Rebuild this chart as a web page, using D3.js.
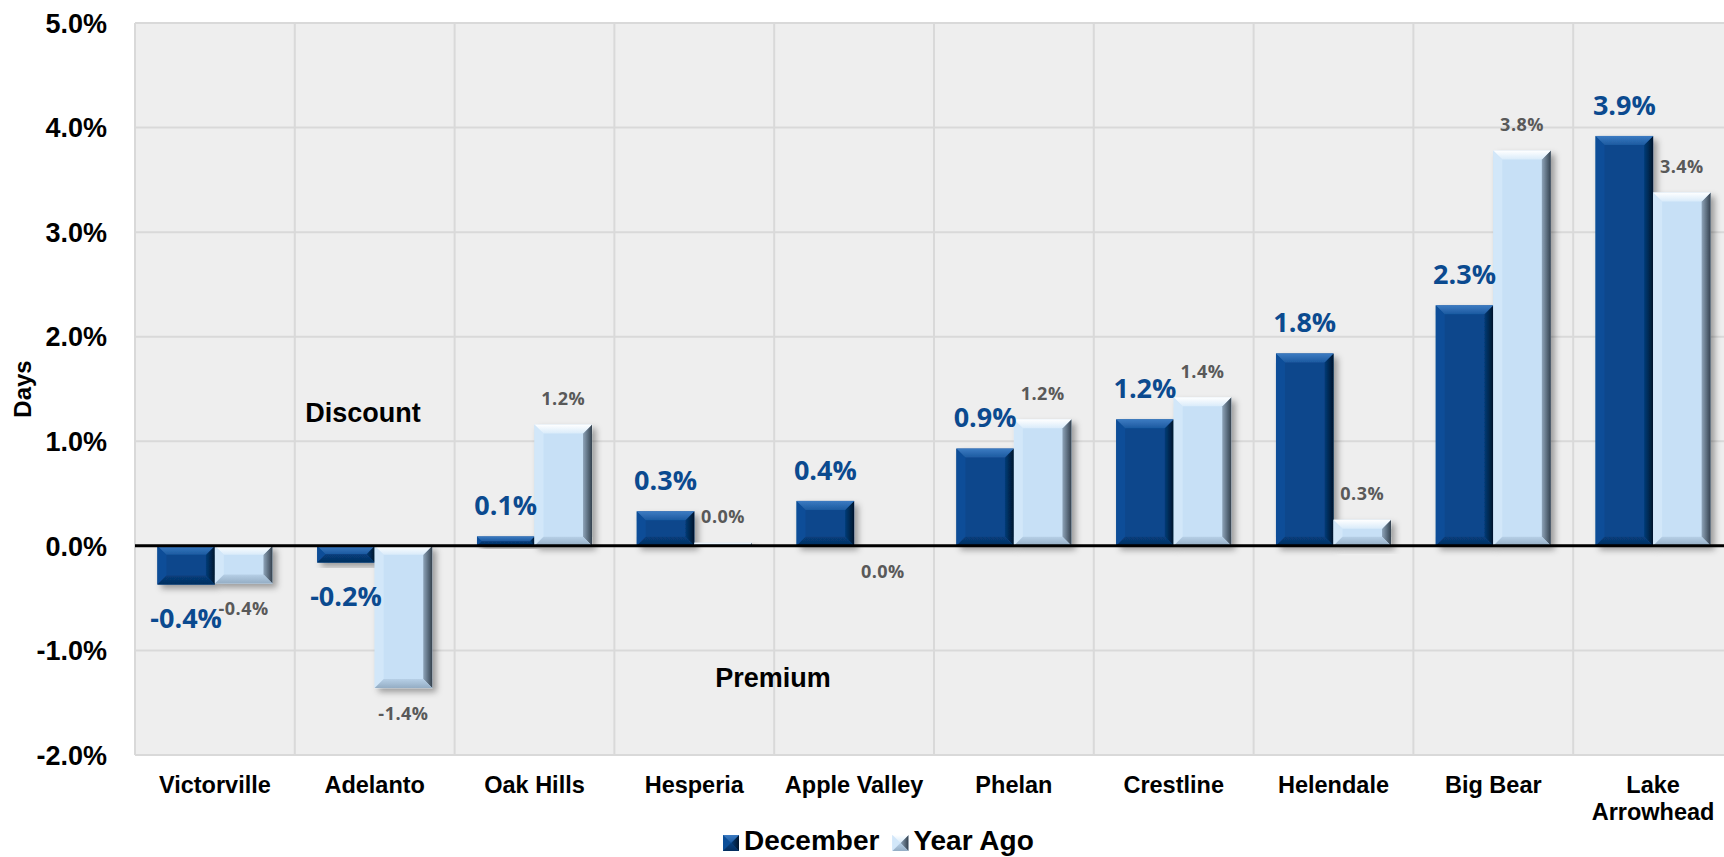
<!DOCTYPE html>
<html>
<head>
<meta charset="utf-8">
<script src="https://cdn.jsdelivr.net/npm/d3@7"></script>
<style>
  body { margin: 0; background: #fff; }
  svg { display: block; }
</style>
</head>
<body>
<div id="chart"></div>
<script>
// values
const cities = ['Victorville', 'Adelanto', 'Oak Hills', 'Hesperia', 'Apple Valley',
    'Phelan', 'Crestline', 'Helendale', 'Big Bear', 'Lake Arrowhead'];
const seriesNames = ['December', 'Year Ago'];
const december = [-0.37, -0.16, 0.09, 0.33, 0.43, 0.93, 1.21, 1.84, 2.3, 3.92];
const yearAgo = [-0.36, -1.36, 1.16, 0.03, -0.01, 1.21, 1.42, 0.25, 3.78, 3.38];
const yTicks = [-2, -1, 0, 1, 2, 3, 4, 5];

const width = 1724, height = 857;
const plot = { left: 135, right: 1733, top: 23, bottom: 755 };

const svg = d3.select('#chart').append('svg').attr('width', width).attr('height', height);
const defs = svg.append('defs');

const fmt = d3.formatLocale({ decimal: '.', thousands: ',', grouping: [3], currency: ['$', ''], minus: '-' }).format('.1f');

const x0 = d3.scaleBand().domain(cities).range([plot.left, plot.right]).paddingInner(0.28).paddingOuter(0.14);
const x1 = d3.scaleBand().domain(seriesNames).range([0, x0.bandwidth()]);
const y = d3.scaleLinear().domain([-2, 5]).range([plot.bottom, plot.top]);

// drop shadow
const f = defs.append('filter').attr('id', 'shadow').attr('x', '-20%').attr('y', '-20%').attr('width', '150%').attr('height', '150%');
f.append('feDropShadow').attr('dx', 4).attr('dy', 4).attr('stdDeviation', 3).attr('flood-color', '#000').attr('flood-opacity', 0.35);

function grad(id, stops, vertical) {
    const g = defs.append('linearGradient').attr('id', id)
        .attr('x1', 0).attr('y1', 0).attr('x2', vertical ? 0 : 1).attr('y2', vertical ? 1 : 0);
    stops.forEach(s => g.append('stop').attr('offset', s[0]).attr('stop-color', s[1]));
}
const styles = {
    'December': { base: '#08468C', top: ['#3C7BC2', '#1C5AA0'], bottom: ['#073E7C', '#052E5E'], left: '#0B4E98', right: ['#063C78', '#02152B'] },
    'Year Ago': { base: '#C7E0F6', top: ['#FFFFFF', '#D9EBFA'], bottom: ['#B6CFE6', '#94ADC4'], left: '#D2E7F9', right: ['#8EA4B9', '#34414E'] }
};
Object.entries(styles).forEach(([k, s], i) => {
    grad('top' + i, [[0, s.top[0]], [1, s.top[1]]], true);
    grad('bot' + i, [[0, s.bottom[0]], [1, s.bottom[1]]], true);
    grad('right' + i, [[0, s.right[0]], [1, s.right[1]]], false);
    s.idx = i;
});

// plot background + grid
svg.append('rect').attr('x', plot.left).attr('y', plot.top)
    .attr('width', plot.right - plot.left).attr('height', plot.bottom - plot.top).attr('fill', '#EEEEEE');
svg.append('g').selectAll('line').data(yTicks).join('line')
    .attr('x1', plot.left).attr('x2', plot.right)
    .attr('y1', d => y(d)).attr('y2', d => y(d))
    .attr('stroke', '#D9D9D9').attr('stroke-width', 2);
const step = x0.step();
svg.append('g').selectAll('line').data(d3.range(cities.length + 1)).join('line')
    .attr('x1', d => plot.left + d * step).attr('x2', d => plot.left + d * step)
    .attr('y1', plot.top).attr('y2', plot.bottom)
    .attr('stroke', '#D9D9D9').attr('stroke-width', 2);

// y axis labels
svg.append('g').selectAll('text').data(yTicks).join('text')
    .attr('x', 107).attr('y', d => y(d)).attr('dy', '0.36em')
    .attr('text-anchor', 'end')
    .style('font', 'bold 27px "Liberation Sans", Arial, sans-serif')
    .text(d => fmt(d) + '%');
svg.append('text')
    .attr('transform', `translate(31,${(plot.top + plot.bottom) / 2}) rotate(-90)`)
    .attr('text-anchor', 'middle')
    .style('font', 'bold 24px "Liberation Sans", Arial, sans-serif')
    .text('Days');

// bevel bar
function bevelBar(g, x, yTop, w, h, s) {
    const b = Math.min(9, h / 2);
    const i = s.idx;
    const bar = g.append('g').attr('filter', 'url(#shadow)');
    bar.append('rect').attr('x', x).attr('y', yTop).attr('width', w).attr('height', h).attr('fill', s.base);
    const pts = a => a.map(p => p.join(',')).join(' ');
    bar.append('polygon').attr('points', pts([[x, yTop], [x + b, yTop + b], [x + b, yTop + h - b], [x, yTop + h]])).attr('fill', s.left);
    bar.append('polygon').attr('points', pts([[x + w, yTop], [x + w - b, yTop + b], [x + w - b, yTop + h - b], [x + w, yTop + h]])).attr('fill', `url(#right${i})`);
    bar.append('polygon').attr('points', pts([[x, yTop], [x + w, yTop], [x + w - b, yTop + b], [x + b, yTop + b]])).attr('fill', `url(#top${i})`);
    bar.append('polygon').attr('points', pts([[x, yTop + h], [x + w, yTop + h], [x + w - b, yTop + h - b], [x + b, yTop + h - b]])).attr('fill', `url(#bot${i})`);
}

const rows = cities.map((c, i) => ({ city: c, vals: [december[i], yearAgo[i]] }));
const barsG = svg.append('g');
rows.forEach(r => {
    r.vals.forEach((v, j) => {
        const name = seriesNames[j];
        const x = x0(r.city) + x1(name);
        const yTop = y(Math.max(0, v));
        const h = Math.abs(y(v) - y(0));
        bevelBar(barsG, x, yTop, x1.bandwidth(), h, styles[name]);
    });
});

// zero line
svg.append('line').attr('x1', plot.left).attr('x2', plot.right)
    .attr('y1', y(0)).attr('y2', y(0)).attr('stroke', '#000').attr('stroke-width', 3);

// data labels
const labelG = svg.append('g');
labelG.selectAll('text.dec').data(rows).join('text').attr('class', 'dec')
    .attr('x', d => x0(d.city) + x1('December') + x1.bandwidth() / 2)
    .attr('y', d => d.vals[0] >= 0 ? y(d.vals[0]) - 31 : y(d.vals[0]) + 34)
    .attr('dy', '0.36em').attr('text-anchor', 'middle')
    .attr('fill', '#0B4A8F')
    .style('font', 'bold 27px "Open Sans", sans-serif')
    .text(d => fmt(d.vals[0]) + '%');
labelG.selectAll('text.ya').data(rows).join('text').attr('class', 'ya')
    .attr('x', d => x0(d.city) + x1('Year Ago') + x1.bandwidth() / 2)
    .attr('y', d => d.vals[1] >= 0 ? y(d.vals[1]) - 26 : y(d.vals[1]) + 25)
    .attr('dy', '0.36em').attr('text-anchor', 'middle')
    .attr('fill', '#595959')
    .style('font', 'bold 18px "Open Sans", sans-serif')
    .style('letter-spacing', '0.5px')
    .text(d => fmt(d.vals[1]) + '%');

// annotations
svg.append('text').attr('x', 363).attr('y', 412).attr('dy', '0.36em').attr('text-anchor', 'middle')
    .style('font', 'bold 27px "Liberation Sans", Arial, sans-serif').text('Discount');
svg.append('text').attr('x', 773).attr('y', 677).attr('dy', '0.36em').attr('text-anchor', 'middle')
    .style('font', 'bold 27px "Liberation Sans", Arial, sans-serif').text('Premium');

// x labels
const xl = svg.append('g').style('font', 'bold 23.5px "Liberation Sans", Arial, sans-serif');
cities.forEach(c => {
    const cx = x0(c) + x0.bandwidth() / 2;
    const t = xl.append('text').attr('x', cx).attr('y', 793).attr('text-anchor', 'middle').text(c);
    if (t.node().getComputedTextLength() > step * 0.92) {
        t.text(null);
        c.split(' ').forEach((w, k) => t.append('tspan').attr('x', cx).attr('dy', k ? 27 : 0).text(w));
    }
});

// legend
const leg = svg.append('g');
let lx = 723;
seriesNames.forEach((name, j) => {
    const s = styles[name];
    const m = leg.append('g');
    bevelBar(m, lx, 835, 16, 16, Object.assign({}, s));
    m.select('g').attr('filter', null);
    const t = leg.append('text').attr('x', lx + 21).attr('y', 850)
        .style('font', 'bold 28px "Liberation Sans", Arial, sans-serif').text(name);
    lx += 21 + t.node().getComputedTextLength() + 13;
});
</script>
</body>
</html>
